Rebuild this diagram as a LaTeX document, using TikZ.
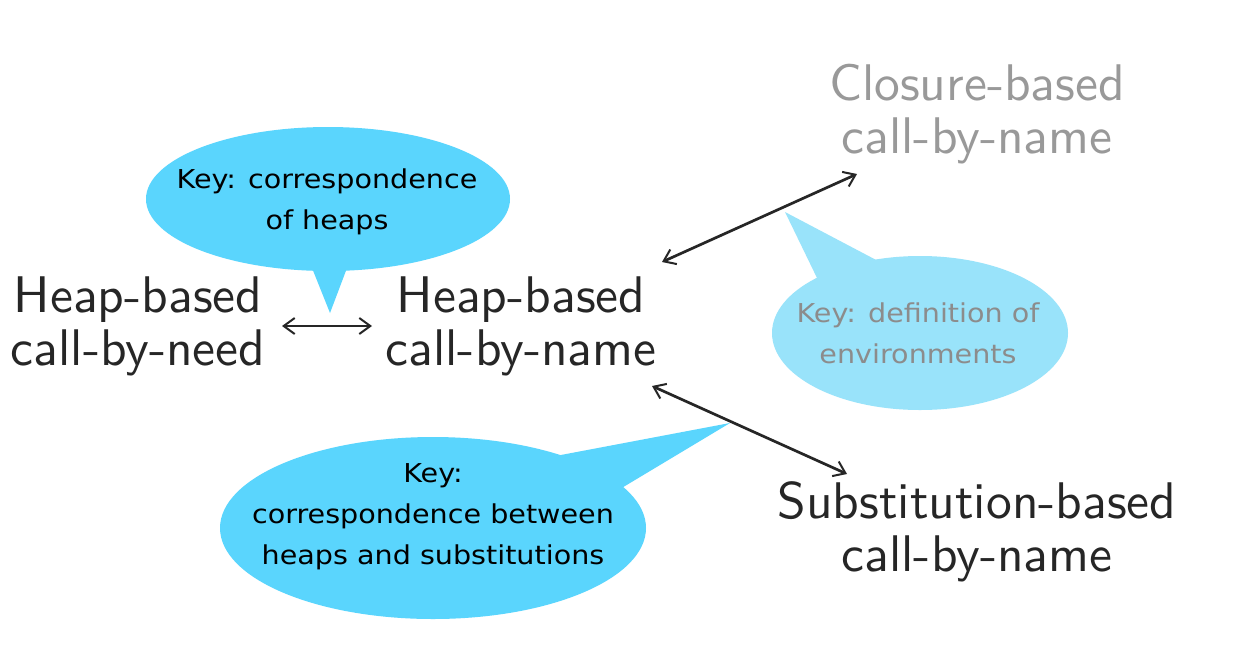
\documentclass[tikz,border=0pt]{standalone}
\usepackage{fontspec}
\newfontfamily\keyfont{DejaVu Sans}[FakeStretch=1.1]
\newfontfamily\termfont{lmsans10-regular}[Extension=.otf]
\usetikzlibrary{arrows.meta}
\definecolor{txt}{HTML}{262626}
\definecolor{graytxt}{HTML}{999999}
\definecolor{keygray}{HTML}{8C8C8C}
\definecolor{bubble}{HTML}{5AD5FD}
\definecolor{bubblelight}{HTML}{99E3FA}
\tikzset{
  term/.style={font=\termfont\fontsize{51.5}{53}\selectfont, text=txt, align=center, inner sep=0pt},
  keytext/.style={font=\keyfont\fontsize{26}{41}\selectfont, text=black, align=center, inner sep=0pt},
  link/.style={draw=txt, line width=2.7pt, {Straight Barb[length=11pt,width=16pt,line width=2pt]}-{Straight Barb[length=11pt,width=16pt,line width=2pt]}},
}
\begin{document}
\begin{tikzpicture}[x=1pt,y=-1pt]
\useasboundingbox (0,0) rectangle (1244,646);
\fill[white] (0,0) rectangle (1244,646);

% callouts
\fill[bubble] (328,199) ellipse [x radius=182, y radius=72];
\fill[bubble] (312,268) -- (330,313) -- (347,268) -- cycle;
\fill[bubblelight] (920,333) ellipse [x radius=148, y radius=77];
\fill[bubblelight] (818,280) -- (785,212) -- (880,262) -- cycle;
\fill[bubble] (433,528) ellipse [x radius=213, y radius=91];
\fill[bubble] (545,458) -- (730,423) -- (615,492) -- cycle;

\node[keytext] (k1) at (327,202) {Key: correspondence\\of heaps};
\node[keytext, text=keygray] (k2) at (918,333) {Key: definition of\\environments};
\node[keytext] (k3) at (433,517) {Key:\\correspondence between\\heaps and substitutions};

% terms
\node[term] (need) at (138,326) {Heap-based\\call-by-need};
\node[term] (name) at (521,326) {Heap-based\\call-by-name};
\node[term, text=graytxt] (clos) at (977,114) {Closure-based\\call-by-name};
\node[term] (subst) at (977,532) {Substitution-based\\call-by-name};

% connectors
\coordinate (a1) at (282,326);
\coordinate (b1) at (372,326);
\coordinate (a2) at (662,262);
\coordinate (b2) at (857,174);
\coordinate (a3) at (652,386);
\coordinate (b3) at (847,474);
\draw[link] (a1) -- (b1);
\draw[link] (a2) -- (b2);
\draw[link] (a3) -- (b3);
\end{tikzpicture}
\end{document}
